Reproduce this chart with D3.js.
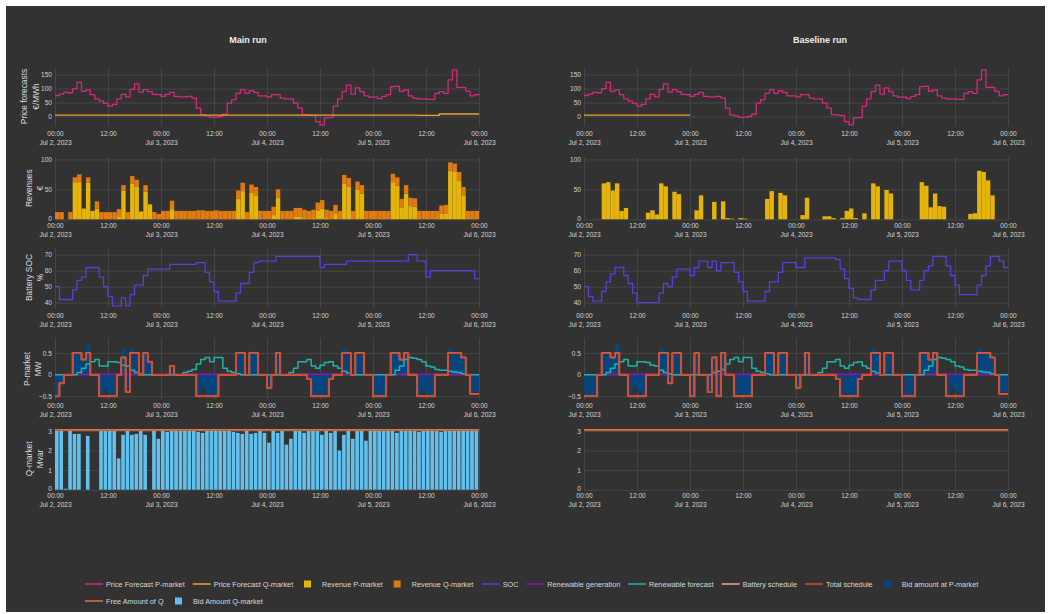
<!DOCTYPE html>
<html>
<head>
<meta charset="utf-8">
<script src="https://cdn.jsdelivr.net/npm/d3@7"></script>
<style>
  body { margin: 0; background: #fff; }
  svg { display: block; font-family: "Liberation Sans", Arial, sans-serif; }
</style>
</head>
<body>
<svg id="chart" width="1051" height="614"></svg>
<script>
// hourly values, Jul 2 00:00 -> Jul 6 00:00 (96 hours)
const startTime = new Date(2023, 6, 2, 0, 0);
const endTime = new Date(2023, 6, 6, 0, 0);

const pricePmarket = [
  75,80,87,85,100,122,90,95,78,63,55,47,37,43,63,79,70,97,117,87,96,89,79,78,
  72,79,86,72,70,70,72,66,30,6,2,-3,-3,0,8,48,60,83,96,83,92,86,74,74,
  70,78,78,66,63,63,48,30,7,5,3,-18,-30,-5,-4,37,63,89,112,80,102,89,74,69,
  69,64,72,78,107,108,90,95,74,66,63,63,61,61,83,89,83,131,167,104,104,90,74,78];
const priceQmain = [
  5,5,5,5,5,5,5,5,5,5,5,5,5,5,5,5,5,5,5,5,5,5,5,5,
  5,5,5,5,5,5,5,5,5,5,5,5,5,5,5,5,5,5,5,5,5,5,5,5,
  5,5,5,5,5,5,5,5,5,5,5,5,5,5,5,5,5,5,5,5,5,5,5,5,
  5,5,5,5,5,5,5,5,5,5,4,4,4,4,4,9,9,9,9,9,9,9,9,9];
const priceQbase = [5,5,5,5,5,5,5,5,5,5,5,5,5,5,5,5,5,5,5,5,5,5,5,5];

const revPmain = [
  0,0,0,0,62,62,18,61,14,18,0,0,0,0,5,48,0,60,54,13,46,25,0,0,
  0,0,17,0,0,0,0,0,0,0,0,0,0,0,0,0,0,35,47,0,44,40,0,0,
  0,7,36,0,0,0,5,5,2,0,2,14,18,2,0,10,0,60,55,0,49,43,0,0,
  0,0,0,0,62,56,20,43,22,21,0,0,0,0,0,9,10,81,79,65,40,0,0,0];
const revQmain = [
  12,12,0,12,8,13,0,9,0,12,12,12,12,12,12,9,12,12,12,0,11,0,12,9,
  14,14,14,14,14,14,14,14,15,15,14,14,15,14,14,14,14,13,14,12,14,14,14,14,
  14,14,14,14,14,14,14,14,14,14,14,14,14,14,14,14,14,14,14,14,14,14,14,14,
  14,14,14,14,14,14,14,14,14,14,14,14,14,14,14,14,14,14,14,14,14,14,14,14];
const revPbase = [
  0,0,0,0,60,62,48,60,14,19,0,0,0,0,11,15,8,60,55,0,46,42,0,0,
  0,15,40,0,0,29,0,30,2,1,0,2,1,0,0,0,0,34,47,0,44,40,0,0,
  0,7,36,0,0,0,5,5,2,0,2,14,18,2,0,10,0,60,55,0,49,43,0,0,
  0,0,0,0,62,56,20,43,22,21,0,0,0,0,0,9,10,81,79,65,40,0,0,0];

const socMain = [
  50,42,42,42,48,54,56,62,62,62,56,50,44,38,38,43,38,45,51,51,57,61,61,61,
  61,61,64,64,64,64,64,64,65,65,59,53,47,41,41,41,41,46,52,52,59,65,66,66,
  66,66,69,69,69,69,69,69,69,69,69,69,62,64,64,64,64,64,66,66,66,66,66,66,
  66,66,66,66,66,66,66,66,70,70,66,66,56,60,60,60,60,60,60,60,60,60,60,55];
const socBase = [
  50,44,41,41,47,53,58,62,62,57,52,46,40,40,40,40,40,46,52,50,56,61,61,61,
  57,62,66,66,62,66,60,65,65,65,59,53,47,41,41,41,41,47,53,53,59,65,65,65,
  62,62,68,68,68,68,68,68,68,67,61,55,49,43,42,42,42,48,54,54,60,66,66,66,
  60,54,48,48,54,60,63,69,69,69,63,57,51,45,45,45,45,51,57,63,69,69,66,62];

const renewableGen = [
  0,0,0,0,0,0.01,0.01,0.01,0.01,0.01,0.01,0.01,0.01,0.01,0.01,0.01,0.01,0.01,0.01,0.01,0,0,0,0,
  0,0,0,0,0,0.01,0.01,0.01,0.01,0.01,0.01,0.01,0.01,0.01,0.01,0.01,0.01,0.01,0,0,0,0,0,0,
  0,0,0,0,0,0.01,0.01,0.01,0.01,0.01,0.01,0.01,0.01,0.01,0.01,0.01,0.01,0.01,0.01,0,0,0,0,0,
  0,0,0,0,0,0.01,0.01,0.01,0.01,0.01,0.01,0.01,0.01,0.01,0.01,0.01,0.01,0.01,0.01,0.01,0.01,0,0,0];
const renewableForecast = [
  0,0,0,0,0,0.05,0.15,0.25,0.3,0.35,0.2,0.2,0.3,0.3,0.28,0.22,0.2,0.1,0.05,0.02,0,0,0,0,
  0,0,0,0,0,0.05,0.08,0.12,0.25,0.35,0.4,0.3,0.4,0.4,0.15,0.08,0.05,0.02,0,0,0,0,0,0,
  0,0,0,0,0,0.05,0.15,0.3,0.3,0.35,0.2,0.15,0.22,0.28,0.3,0.2,0.15,0.08,0.04,0,0,0,0,0,
  0,0,0,0,0,0.1,0.2,0.35,0.4,0.38,0.35,0.3,0.2,0.18,0.12,0.1,0.1,0.08,0.06,0.05,0.02,0,0,0];

const batteryMain = [
  -0.5,-0.2,0,0,0.5,0.5,0.35,0.5,0,0,-0.5,-0.5,-0.5,-0.5,0,0.4,-0.4,0.5,0.5,0,0.5,0.3,0,0,
  0,0,0.2,0,0,0,0,0,-0.5,-0.5,-0.5,-0.5,-0.5,0,0,0,0,0.5,0.5,0,0.5,0.5,0,0,
  -0.3,0,0.5,0,0,0,0,0,0,-0.1,-0.5,-0.5,-0.5,-0.5,-0.1,0,0,0.5,0.5,0,0.5,0.5,0,0,
  -0.5,-0.5,-0.5,0,0.5,0.5,0.35,0.5,0,0,-0.5,-0.5,-0.5,-0.5,0,0,0,0.5,0.5,0.5,0.4,0,-0.45,-0.45];
const totalMain = [
  -0.5,-0.2,0,0,0.5,0.5,0.35,0.5,0,0,-0.5,-0.5,-0.5,-0.5,0,0.4,-0.4,0.5,0.5,0,0.5,0.3,0,0,
  0,0,0.2,0,0,0,0,0,-0.5,-0.5,-0.5,-0.5,-0.5,0,0,0,0,0.5,0.5,0,0.5,0.5,0,0,
  -0.3,0,0.5,0,0,0,0,0,0,-0.1,-0.5,-0.5,-0.5,-0.5,-0.1,0,0,0.5,0.5,0,0.5,0.5,0,0,
  -0.5,-0.5,-0.5,0,0.5,0.5,0.35,0.5,0,0,-0.5,-0.5,-0.5,-0.5,0,0,0,0.5,0.5,0.5,0.4,0,-0.45,-0.45];
const bidPmain = [
  -0.5,-0.2,0,0,0.5,0.5,0.3,0.7,0,0,-0.45,-0.35,-0.45,-0.5,0,0.6,-0.3,0.6,0.5,0,0.5,0.3,0,0,
  0,0,0.15,0,0,0,0,0,-0.5,-0.3,-0.5,-0.45,-0.5,0,0,0,0,0.5,0.5,0,0.55,0.5,0,0,
  -0.3,0,0.55,0,0,0,0,0,0,-0.1,-0.5,-0.45,-0.5,-0.45,-0.1,0,0,0.6,0.5,0,0.5,0.45,0,0,
  -0.5,-0.45,-0.5,0,0.5,0.5,0.35,0.5,0,0,-0.5,-0.35,-0.45,-0.5,0,0,0,0.6,0.5,0.5,0.35,0,-0.4,-0.4];

const batteryBase = [
  -0.5,-0.5,-0.5,0,0.5,0.5,0.4,0.5,0,0,-0.5,-0.5,-0.5,-0.5,0,0,0,0.5,0.5,-0.2,0.5,0.5,0,0,
  -0.5,0.5,0,0,-0.4,0.4,-0.5,0.5,0,0,-0.5,-0.5,-0.5,-0.5,0,0,0,0.5,0.5,0,0.5,0.5,0,0,
  -0.3,0,0.5,0,0,0,0,0,0,-0.1,-0.5,-0.5,-0.5,-0.5,-0.1,0,0,0.5,0.5,0,0.5,0.5,0,0,
  -0.5,-0.5,-0.5,0,0.5,0.5,0.35,0.5,0,0,-0.5,-0.5,-0.5,-0.5,0,0,0,0.5,0.5,0.5,0.4,0,-0.45,-0.45];
const totalBase = [
  -0.5,-0.5,-0.5,0,0.5,0.5,0.4,0.5,0,0,-0.5,-0.5,-0.5,-0.5,0,0,0,0.5,0.5,-0.2,0.5,0.5,0,0,
  -0.5,0.5,0,0,-0.4,0.4,-0.5,0.5,0,0,-0.5,-0.5,-0.5,-0.5,0,0,0,0.5,0.5,0,0.5,0.5,0,0,
  -0.3,0,0.5,0,0,0,0,0,0,-0.1,-0.5,-0.5,-0.5,-0.5,-0.1,0,0,0.5,0.5,0,0.5,0.5,0,0,
  -0.5,-0.5,-0.5,0,0.5,0.5,0.35,0.5,0,0,-0.5,-0.5,-0.5,-0.5,0,0,0,0.5,0.5,0.5,0.4,0,-0.45,-0.45];
const bidPbase = [
  -0.5,-0.5,-0.5,0,0.5,0.5,0.4,0.7,0,0,-0.45,-0.3,-0.4,-0.5,0,0,0,0.6,0.5,-0.2,0.5,0.5,0,0,
  -0.5,0.5,0,0,-0.4,0.4,-0.5,0.5,0,0,-0.5,-0.45,-0.5,-0.5,0,0,0,0.5,0.5,0,0.5,0.5,0,0,
  -0.3,0,0.5,0,0,0,0,0,0,-0.1,-0.5,-0.45,-0.5,-0.5,-0.1,0,0,0.6,0.5,0,0.5,0.5,0,0,
  -0.5,-0.5,-0.5,0,0.5,0.5,0.35,0.5,0,0,-0.5,-0.3,-0.4,-0.5,0,0,0,0.6,0.5,0.5,0.4,0,-0.4,-0.4];

const freeQmain = [
  3.05,3.05,3.05,3.05,3.05,3.05,3.05,3.05,3.05,3.05,3.05,3.05,3.05,3.05,3.05,3.05,3.05,3.05,3.05,3.05,3.05,3.05,3.05,3.05,
  3.05,3.05,3.05,3.05,3.05,3.05,3.05,3.05,3.05,3.05,3.05,3.05,3.05,3.05,3.05,3.05,3.05,3.05,3.05,3.05,3.05,3.05,3.05,3.05,
  3.05,3.05,3.05,3.05,3.05,3.05,3.05,3.05,3.05,3.05,3.05,3.05,3.05,3.05,3.05,3.05,3.05,3.05,3.05,3.05,3.05,3.05,3.05,3.05,
  3.05,3.05,3.05,3.05,3.05,3.05,3.05,3.05,3.05,3.05,3.05,3.05,3.05,3.05,3.05,3.05,3.05,3.05,3.05,3.05,3.05,3.05,3.05,3.05];
const freeQbase = [
  3.05,3.05,3.05,3.05,3.05,3.05,3.05,3.05,3.05,3.05,3.05,3.05,3.05,3.05,3.05,3.05,3.05,3.05,3.05,3.05,3.05,3.05,3.05,3.05,
  3.05,3.05,3.05,3.05,3.05,3.05,3.05,3.05,3.05,3.05,3.05,3.05,3.05,3.05,3.05,3.05,3.05,3.05,3.05,3.05,3.05,3.05,3.05,3.05,
  3.05,3.05,3.05,3.05,3.05,3.05,3.05,3.05,3.05,3.05,3.05,3.05,3.05,3.05,3.05,3.05,3.05,3.05,3.05,3.05,3.05,3.05,3.05,3.05,
  3.05,3.05,3.05,3.05,3.05,3.05,3.05,3.05,3.05,3.05,3.05,3.05,3.05,3.05,3.05,3.05,3.05,3.05,3.05,3.05,3.05,3.05,3.05,3.05];
const bidQmain = [
  3,3,0.05,3,2.85,2.85,0,2.75,0,0,3,3,3,3,1.6,2.8,3,2.8,2.85,3,2.8,0,3,2.6,
  3,2.95,3,3,3,3,3,3,2.95,2.9,3,3,3,3,3,3,2.95,2.9,2.85,3,2.85,2.9,3,2.9,
  2.4,3,2.9,3,2.3,2.6,3,3,2.9,3,3,3,2.8,3,2.9,3,2.0,2.8,3,2.6,3,3,2.5,3,
  3,3,3,3,3,2.9,3,3,3,3,2.95,3,3,3,3,2.95,3,3,3,3,3,3,3,3];

const priceTicks = [0, 50, 100, 150];
const revTicks = [0, 50, 100];
const socTicks = [40, 50, 60, 70];
const pTicks = [-0.5, 0, 0.5];
const pTickLabels = ["\u22120.5", "0", "0.5"];
const qTicks = [0, 1, 2, 3];

const colors = {
  priceP: "#d6287c", priceQ: "#f0a030", revP: "#e5b40a", revQ: "#e07b12",
  soc: "#5a3fdc", gen: "#8e13b8", fc: "#19b5a8", bat: "#f4a59a",
  total: "#d24b2c", bidP: "#07457f", freeQ: "#e8703a", bidQ: "#63c0ec"
};

const svg = d3.select("#chart");
svg.append("rect").attr("x", 6).attr("y", 6).attr("width", 1039).attr("height", 606).attr("fill", "#323232");

const hourAt = i => d3.timeHour.offset(startTime, i);
const hm = d3.timeFormat("%H:%M");
const dayFmt = d3.timeFormat("%b %-d, %Y");

const cols = [
  { x0: 55, x1: 479, title: "Main run", tx: 248 },
  { x0: 584, x1: 1008, title: "Baseline run", tx: 820 }
];
// lift = small upward nudge of the bottom y tick label so it clears the date labels
const rows = [
  { y0: 67, y1: 126, dom: [-34, 177], ticks: priceTicks, t: ["Price forecasts", "\u20ac/MWh"], tx: [24, 36.5], lab: 134 },
  { y0: 157, y1: 219.3, dom: [0, 104], ticks: revTicks, t: ["Revenues", "\u20ac"], tx: [29.5, 40], lab: 225.5, lift: 1 },
  { y0: 247, y1: 308, dom: [36.7, 74.8], ticks: socTicks, t: ["Battery SOC", "%"], tx: [29.5, 40], lab: 315.5 },
  { y0: 338, y1: 400, dom: [-0.586, 0.849], ticks: pTicks, labels: pTickLabels, t: ["P-market", "MW"], tx: [27.5, 38.5], lab: 405.5 },
  { y0: 428, y1: 489.7, dom: [0, 3.15], ticks: qTicks, t: ["Q-market", "Mvar"], tx: [29.5, 40], lab: 495.5, lift: 1.5 }
];

function panel(ci, ri) {
  const c = cols[ci], r = rows[ri];
  const x = d3.scaleTime().domain([startTime, endTime]).range([c.x0, c.x1]);
  const y = d3.scaleLinear().domain(r.dom).range([r.y1, r.y0]);
  const g = svg.append("g");

  const ya = g.append("g").attr("transform", `translate(${c.x0},0)`)
    .call(d3.axisLeft(y).tickValues(r.ticks)
      .tickFormat((d, i) => r.labels ? r.labels[i] : d)
      .tickSize(-(c.x1 - c.x0)).tickPadding(3));
  const xa = g.append("g").attr("transform", `translate(0,${r.y1})`)
    .call(d3.axisBottom(x).ticks(d3.timeHour.every(12)).tickSize(-(r.y1 - r.y0)));

  [ya, xa].forEach(a => {
    a.select(".domain").remove();
    a.selectAll(".tick line").attr("stroke", "#464646").attr("stroke-width", 1);
    a.selectAll(".tick text").attr("fill", "#d2d2d2").attr("font-size", 6.6)
      .attr("font-family", "'Liberation Sans', Arial, sans-serif");
  });
  if (r.lift) {
    ya.selectAll(".tick text").filter(d => d === r.dom[0]).attr("y", -r.lift);
  }

  xa.selectAll(".tick text").each(function (d) {
    const t = d3.select(this).text(null).attr("y", r.lab - r.y1).attr("dy", "0.35em");
    t.append("tspan").attr("x", 0).text(hm(d));
    if (d.getHours() === 0) t.append("tspan").attr("x", 0).attr("dy", "1.32em").text(dayFmt(d));
  });

  if (ci === 0) {
    const cy = (r.y0 + r.y1) / 2;
    r.t.forEach((s, k) => {
      g.append("text").attr("transform", `translate(${r.tx[k]},${cy}) rotate(-90)`)
        .attr("text-anchor", "middle").attr("dy", "0.35em")
        .attr("fill", "#dcdcdc").attr("font-size", 8.4).text(s);
    });
  }
  return { g, x, y };
}

function stepLine(p, vals, color, w) {
  const pts = vals.map((v, i) => [i, v]);
  pts.push([vals.length, vals[vals.length - 1]]);
  p.g.append("path").datum(pts)
    .attr("fill", "none").attr("stroke", color).attr("stroke-width", w).attr("stroke-linejoin", "round")
    .attr("d", d3.line().x(d => p.x(hourAt(d[0]))).y(d => p.y(d[1])).curve(d3.curveStepAfter));
}

function bars(p, vals, color, base, gap) {
  p.g.append("g").selectAll("rect").data(vals.map((v, i) => ({ i, v, b: base ? base[i] : 0 })))
    .join("rect")
    .filter(d => d.v !== 0)
    .attr("x", d => p.x(hourAt(d.i)))
    .attr("width", d => p.x(hourAt(d.i + 1)) - p.x(hourAt(d.i)) - (gap || 0))
    .attr("y", d => p.y(Math.max(d.b, d.b + d.v)))
    .attr("height", d => Math.abs(p.y(d.b) - p.y(d.b + d.v)))
    .attr("fill", color);
}

// titles
cols.forEach(c => {
  svg.append("text").attr("x", c.tx).attr("y", 43).attr("text-anchor", "middle")
    .attr("fill", "#eeeeee").attr("font-size", 9).attr("font-weight", "bold").text(c.title);
});

// main run
let p = panel(0, 0);
stepLine(p, pricePmarket, colors.priceP, 1.3);
stepLine(p, priceQmain, colors.priceQ, 1.4);
p = panel(0, 1);
bars(p, revPmain, colors.revP);
bars(p, revQmain, colors.revQ, revPmain);
p = panel(0, 2);
stepLine(p, socMain, colors.soc, 1.3);
p = panel(0, 3);
bars(p, bidPmain, colors.bidP);
stepLine(p, renewableGen, colors.gen, 1.5);
stepLine(p, renewableForecast, colors.fc, 1.5);
stepLine(p, batteryMain, colors.bat, 1.5);
stepLine(p, totalMain, colors.total, 1.9);
p = panel(0, 4);
bars(p, bidQmain, colors.bidQ, null, 0.8);
stepLine(p, freeQmain, colors.freeQ, 1.8);

// baseline run
p = panel(1, 0);
stepLine(p, pricePmarket, colors.priceP, 1.3);
stepLine(p, priceQbase, colors.priceQ, 1.4);
p = panel(1, 1);
bars(p, revPbase, colors.revP);
p = panel(1, 2);
stepLine(p, socBase, colors.soc, 1.3);
p = panel(1, 3);
bars(p, bidPbase, colors.bidP);
stepLine(p, renewableGen, colors.gen, 1.5);
stepLine(p, renewableForecast, colors.fc, 1.5);
stepLine(p, batteryBase, colors.bat, 1.5);
stepLine(p, totalBase, colors.total, 1.9);
p = panel(1, 4);
stepLine(p, freeQbase, colors.freeQ, 1.8);

// legend
const legendItems = [
  { name: "Price Forecast P-market", kind: "line", color: colors.priceP, x: 106, y: 584 },
  { name: "Price Forecast Q-market", kind: "line", color: colors.priceQ, x: 213.7, y: 584 },
  { name: "Revenue P-market", kind: "box", color: colors.revP, x: 322, y: 584 },
  { name: "Revenue Q-market", kind: "box", color: colors.revQ, x: 411.7, y: 584 },
  { name: "SOC", kind: "line", color: colors.soc, x: 502.7, y: 584 },
  { name: "Renewable generation", kind: "line", color: colors.gen, x: 547.3, y: 584 },
  { name: "Renewable forecast", kind: "line", color: colors.fc, x: 649, y: 584 },
  { name: "Battery schedule", kind: "line", color: colors.bat, x: 742.7, y: 584 },
  { name: "Total schedule", kind: "line", color: colors.total, x: 826, y: 584 },
  { name: "Bid amount at P-market", kind: "box", color: colors.bidP, x: 901.7, y: 584 },
  { name: "Free Amount of Q", kind: "line", color: colors.freeQ, x: 106, y: 601 },
  { name: "Bid Amount Q-market", kind: "box", color: colors.bidQ, x: 193, y: 601 }
];
const lg = svg.append("g");
legendItems.forEach(d => {
  if (d.kind === "line") {
    lg.append("line").attr("x1", d.x - 21).attr("x2", d.x - 3).attr("y1", d.y).attr("y2", d.y)
      .attr("stroke", d.color).attr("stroke-width", 1.5);
  } else {
    lg.append("rect").attr("x", d.x - 18).attr("y", d.y - 3.5).attr("width", 7).attr("height", 7)
      .attr("fill", d.color);
  }
  lg.append("text").attr("x", d.x).attr("y", d.y).attr("dy", "0.35em")
    .attr("fill", "#d8d8d8").attr("font-size", 7.3).text(d.name);
});
</script>
</body>
</html>
